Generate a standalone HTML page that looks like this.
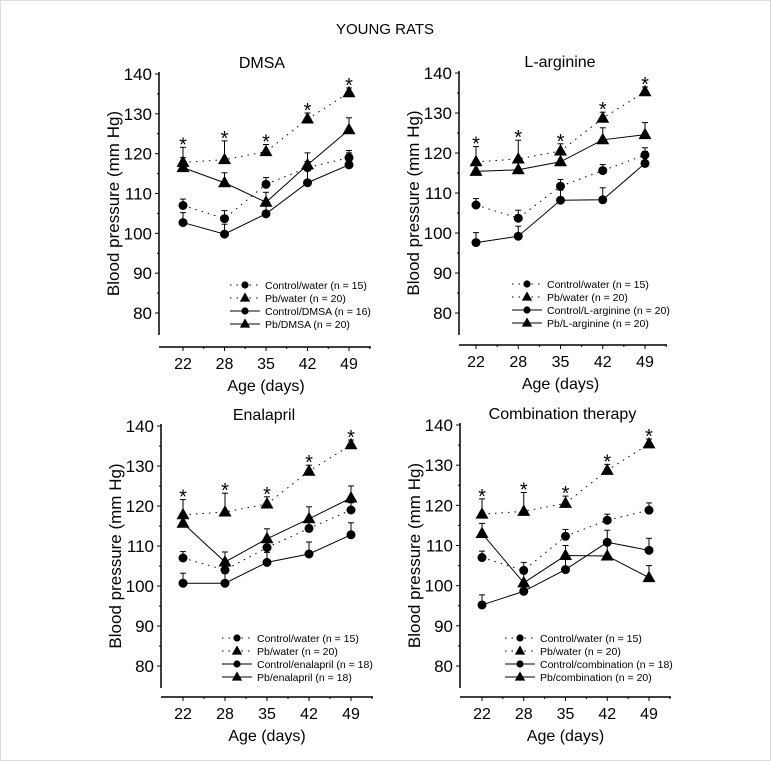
<!DOCTYPE html>
<html><head><meta charset="utf-8"><style>
html,body{margin:0;padding:0;background:#fff}
svg{display:block;font-family:"Liberation Sans",sans-serif}
</style></head><body>
<svg id="fig" width="771" height="761" viewBox="0 0 771 761">
<rect x="0.5" y="0.5" width="770" height="760" fill="#fff" stroke="#ddd"/>
<text x="385" y="34" text-anchor="middle" font-size="15">YOUNG RATS</text>
</svg>
<script>
const days = ["22","28","35","42","49"];
const yTicks = [80,90,100,110,120,130,140];
const ctrlWater1 = [107,103.7,112.3,116.5,119];
const ctrlWater2 = [107,103.7,111.7,115.6,119.5];
const ctrlWater3 = [107,104,109.6,114.4,119];
const ctrlWater4 = [107,103.8,112.3,116.3,118.8];
const pbWater = [117.8,118.5,120.5,128.7,135.3];
const ctrlDmsa = [102.7,99.8,104.9,112.7,117.2];
const pbDmsa = [116.5,112.7,107.8,117.2,126];
const ctrlArg = [97.6,99.2,108.2,108.3,117.4];
const pbArg = [115.4,115.8,117.8,123.3,124.6];
const ctrlEnal = [100.7,100.7,105.9,108,112.8];
const pbEnal = [115.7,106,111.8,116.8,122];
const ctrlComb = [95.2,98.6,104,110.8,108.8];
const pbComb = [113,100.7,107.5,107.4,102];
const errCW = [1.6,2,1.7,1.5,1.8];
const errPW = [3.8,4.7,1.8,1.5,1.2];
const errT = [2.5,2.5,2.5,3,3];

const panels = [
 {name:"dmsa",title:"DMSA",ax:159,top:74,bot:313,xb:347,x0:183,x1:349,cw:ctrlWater1,ct:ctrlDmsa,pt:pbDmsa,lx:230,ly:285,
  leg:["Control/water (n = 15)","Pb/water (n = 20)","Control/DMSA (n = 16)","Pb/DMSA (n = 20)"]},
 {name:"l-arginine",title:"L-arginine",ax:459,top:73,bot:313,xb:345,x0:476,x1:645,cw:ctrlWater2,ct:ctrlArg,pt:pbArg,lx:512,ly:284,
  leg:["Control/water (n = 15)","Pb/water (n = 20)","Control/L-arginine (n = 20)","Pb/L-arginine (n = 20)"]},
 {name:"enalapril",title:"Enalapril",ax:161,top:426,bot:666,xb:697,x0:183,x1:351,cw:ctrlWater3,ct:ctrlEnal,pt:pbEnal,lx:222,ly:638,
  leg:["Control/water (n = 15)","Pb/water (n = 20)","Control/enalapril (n = 18)","Pb/enalapril (n = 18)"]},
 {name:"combination",title:"Combination therapy",ax:460,top:425,bot:666,xb:697,x0:482,x1:649,cw:ctrlWater4,ct:ctrlComb,pt:pbComb,lx:505,ly:638,
  leg:["Control/water (n = 15)","Pb/water (n = 20)","Control/combination (n = 18)","Pb/combination (n = 20)"]}
];
const NS="http://www.w3.org/2000/svg";
const svg=document.getElementById("fig");
function mk(tag,attrs,parent,txt){const e=document.createElementNS(NS,tag);for(const k in attrs)e.setAttribute(k,attrs[k]);if(txt!==undefined)e.textContent=txt;parent.appendChild(e);return e;}
function marker(g,kind,x,y){
  if(kind==="c"){const m=mk("circle",{cx:x,cy:y,r:4.5,fill:"#000"},g);return m;}
  const m=mk("polygon",{points:`${x},${y-7} ${x-6.5},${y+4.5} ${x+6.5},${y+4.5}`,fill:"#000"},g);return m;
}
panels.forEach(p=>{
  const g=mk("g",{},svg);
  
  
  const yS=v=>p.bot-(v-80)*(p.bot-p.top)/60;
  const xS=i=>p.x0+i*(p.x1-p.x0)/(days.length-1);
  const ttl=mk("text",{x:(p.ax+p.x1)/2+8,y:p.top-6,"text-anchor":"middle","font-size":"16"},g,p.title);
  
  
  const ya=mk("line",{x1:p.ax,y1:p.top-2,x2:p.ax,y2:p.bot+22,stroke:"#000","stroke-width":1.5},g);
  
  
  const xa=mk("line",{x1:p.ax,y1:p.xb,x2:p.x1+22,y2:p.xb,stroke:"#000","stroke-width":1.5},g);
  
  
  yTicks.forEach(t=>{
    const y=yS(t);
    mk("line",{x1:p.ax-4,y1:y,x2:p.ax,y2:y,stroke:"#000"},g);
    if(t<140) mk("line",{x1:p.ax-2,y1:yS(t+5),x2:p.ax,y2:yS(t+5),stroke:"#000"},g);
    const tl=mk("text",{x:p.ax-7,y:y+6,"text-anchor":"end","font-size":"17"},g,t);
    
    
  });
  days.forEach((d,i)=>{
    const x=xS(i);
    mk("line",{x1:x,y1:p.xb,x2:x,y2:p.xb+4,stroke:"#000"},g);
    mk("line",{x1:x+ (p.x1-p.x0)/8,y1:p.xb,x2:x+(p.x1-p.x0)/8,y2:p.xb+2,stroke:"#000"},g);
    const tl=mk("text",{x:x,y:p.xb+22,"text-anchor":"middle","font-size":"16"},g,d);
    
    
  });
  const xt=mk("text",{x:(p.x0+p.x1)/2,y:p.xb+44,"text-anchor":"middle","font-size":"16"},g,"Age (days)");
  
  
  const yt=mk("text",{x:0,y:0,"text-anchor":"middle","font-size":"17",transform:`translate(${p.ax-40},${(p.top+p.bot)/2+10}) rotate(-90)`},g,"Blood pressure (mm Hg)");
  
  
  const series=[
    {v:p.cw,e:errCW,k:"c",dash:"1.5 5",n:"control-water"},
    {v:pbWater,e:errPW,k:"t",dash:"1.5 5",n:"pb-water"},
    {v:p.ct,e:errT,k:"c",dash:"",n:"control-treated"},
    {v:p.pt,e:errT,k:"t",dash:"",n:"pb-treated"}];
  series.forEach(s=>{
    const sg=mk("g",{},g);
    
    
    const pts=s.v.map((v,i)=>xS(i)+","+yS(v)).join(" ");
    const attrs={points:pts,fill:"none",stroke:"#000","stroke-width":1};
    if(s.dash)attrs["stroke-dasharray"]=s.dash;
    mk("polyline",attrs,sg);
    s.v.forEach((v,i)=>{
      const x=xS(i),y=yS(v),yt2=yS(v+s.e[i]);
      mk("line",{x1:x,y1:y,x2:x,y2:yt2,stroke:"#000"},sg);
      mk("line",{x1:x-3,y1:yt2,x2:x+3,y2:yt2,stroke:"#000"},sg);
      const m=marker(sg,s.k,x,y);
      
      
      if(s.n==="pb-water"){
        const st=mk("text",{x:x,y:yS(v+s.e[i])+4,"text-anchor":"middle","font-size":"20"},sg,"*");
        
        
      }
    });
  });
  const lg=mk("g",{},g);
  
  
  p.leg.forEach((t,i)=>{
    const y=p.ly+i*13;
    const la={x1:p.lx,y1:y,x2:p.lx+30,y2:y,stroke:"#000"};
    if(i<2)la["stroke-dasharray"]="1.5 5";
    mk("line",la,lg);
    marker(lg,i%2===0?"c":"t",p.lx+15,y).setAttribute("transform",`translate(${p.lx+15},${y}) scale(0.8) translate(${-p.lx-15},${-y})`);
    const tx=mk("text",{x:p.lx+35,y:y+4,"font-size":"10.5"},lg,t);
    
    
  });
});
</script>
</body></html>
